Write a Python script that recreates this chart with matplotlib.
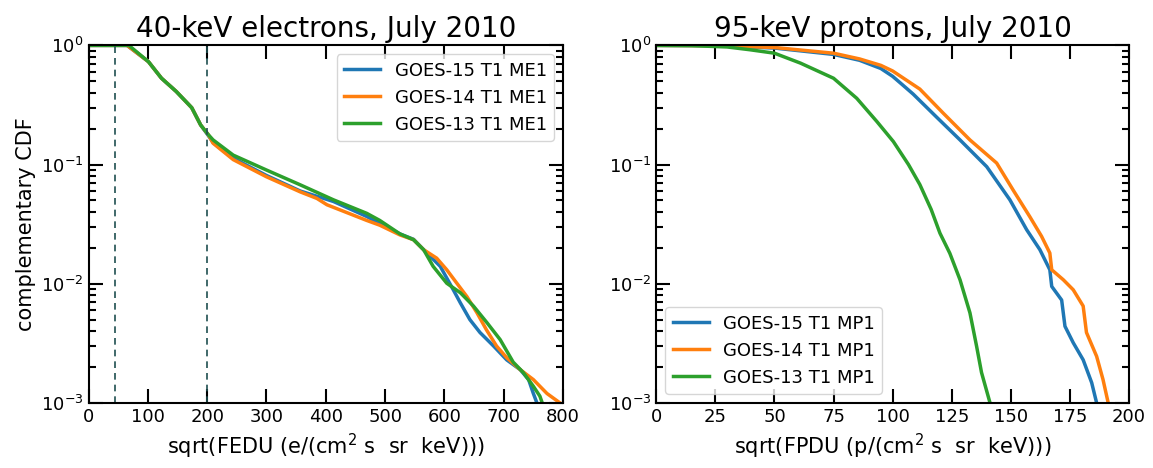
import numpy as np
import matplotlib.pyplot as plt

# 40-keV electrons: sqrt(FEDU) vs complementary CDF
e_labels = ['GOES-15 T1 ME1', 'GOES-14 T1 ME1', 'GOES-13 T1 ME1']
e15_x = [0, 65, 101, 123, 148, 174, 189, 202, 210, 244, 300, 357, 413, 469, 491, 525, 548,
         565, 593, 615, 627, 643, 660, 683, 705, 728, 742, 750, 756]
e15_y = [1.0, 1.0, 0.73, 0.53, 0.41, 0.30, 0.215, 0.175, 0.153, 0.113, 0.081, 0.060, 0.049,
         0.0367, 0.032, 0.0262, 0.0236, 0.0193, 0.014, 0.0089, 0.0069, 0.005, 0.0039,
         0.003, 0.0023, 0.0019, 0.00157, 0.0012, 0.001]
e14_x = [0, 65, 101, 123, 148, 174, 189, 202, 210, 244, 300, 357, 385, 402, 469, 491, 525,
         548, 565, 587, 604, 621, 638, 655, 671, 688, 705, 728, 750, 773, 795]
e14_y = [1.0, 1.0, 0.73, 0.53, 0.41, 0.30, 0.215, 0.178, 0.151, 0.11, 0.079, 0.059, 0.052,
         0.046, 0.034, 0.031, 0.0257, 0.0234, 0.0193, 0.0164, 0.0131, 0.0101, 0.0078,
         0.0057, 0.0041, 0.003, 0.0024, 0.0019, 0.00157, 0.0012, 0.001]
e13_x = [0, 68, 101, 123, 148, 174, 189, 202, 210, 244, 300, 357, 413, 469, 491, 525, 548,
         565, 581, 604, 627, 649, 672, 694, 716, 733, 750, 761, 765]
e13_y = [1.0, 1.0, 0.73, 0.53, 0.41, 0.30, 0.215, 0.178, 0.161, 0.12, 0.090, 0.0676, 0.0506,
         0.039, 0.034, 0.0262, 0.0234, 0.0193, 0.014, 0.0101, 0.0084, 0.0065, 0.0047,
         0.0034, 0.0022, 0.0018, 0.00138, 0.00114, 0.001]
e_cuts = [45, 200]

# 95-keV protons: sqrt(FPDU) vs complementary CDF
p_labels = ['GOES-15 T1 MP1', 'GOES-14 T1 MP1', 'GOES-13 T1 MP1']
p15_x = [0, 25, 50, 75, 86, 95, 100, 104, 108.7, 118.6, 128.5, 139.8, 149.6, 156.7, 162.3,
         166.5, 167.3, 171.5, 172.9, 176.4, 180.6, 184.2, 186.3]
p15_y = [1.0, 0.995, 0.95, 0.84, 0.75, 0.64, 0.55, 0.47, 0.39, 0.25, 0.161, 0.096, 0.0506,
         0.0284, 0.0193, 0.0131, 0.0095, 0.0073, 0.0044, 0.0032, 0.0023, 0.00148, 0.001]
p14_x = [0, 25, 50, 75, 86, 95, 100, 104, 111.5, 121.4, 132.7, 144, 151, 158, 163, 166.5,
         167.3, 172.2, 176.4, 180.6, 182, 186.3, 189, 191.2]
p14_y = [1.0, 0.995, 0.96, 0.86, 0.77, 0.68, 0.61, 0.54, 0.43, 0.27, 0.161, 0.103, 0.061,
         0.0366, 0.025, 0.0181, 0.0131, 0.0108, 0.0089, 0.0065, 0.0039, 0.00246, 0.00157,
         0.001]
p13_x = [0, 15, 30, 39.5, 50, 61, 75, 84.8, 93.3, 100.3, 106.7, 111.5, 116.3, 120, 124.2,
         128.5, 132.7, 135.5, 137.6, 141.2]
p13_y = [1.0, 0.995, 0.97, 0.92, 0.86, 0.71, 0.53, 0.36, 0.23, 0.156, 0.10, 0.068, 0.042,
         0.0266, 0.018, 0.0108, 0.0057, 0.003, 0.0018, 0.001]

colors = ['#1f77b4', '#ff7f0e', '#2ca02c']


def style_axes(ax):
    ax.set_yscale('log')
    ax.set_ylim(1e-3, 1)
    ax.tick_params(which='both', direction='in', top=True, right=True, labelsize=13)
    ax.tick_params(which='major', length=10, width=1.5)
    ax.tick_params(which='minor', length=5, width=1.5)
    for sp in ax.spines.values():
        sp.set_linewidth(1.5)


fig = plt.figure(figsize=(11.53, 4.68), dpi=100)
ax1 = fig.add_axes([0.0768, 0.139, 0.4115, 0.764])
ax2 = fig.add_axes([0.5692, 0.139, 0.410, 0.764])

for x, y, c, lab in zip([e15_x, e14_x, e13_x], [e15_y, e14_y, e13_y], colors, e_labels):
    ax1.plot(x, y, color=c, lw=2.5, label=lab)
for xc in e_cuts:
    ax1.axvline(xc, color='#1f4f50', ls=(0, (4, 3)), lw=1.2)
style_axes(ax1)
ax1.set_xlim(0, 800)
ax1.set_title('40-keV electrons, July 2010', fontsize=20)
ax1.set_xlabel('sqrt(FEDU (e/(cm$^2$ s  sr  keV)))', fontsize=15)
ax1.set_ylabel('complementary CDF', fontsize=15)
ax1.legend(loc='upper right', fontsize=13)

for x, y, c, lab in zip([p15_x, p14_x, p13_x], [p15_y, p14_y, p13_y], colors, p_labels):
    ax2.plot(x, y, color=c, lw=2.5, label=lab)
style_axes(ax2)
ax2.set_xlim(0, 200)
ax2.set_title('95-keV protons, July 2010', fontsize=20)
ax2.set_xlabel('sqrt(FPDU (p/(cm$^2$ s  sr  keV)))', fontsize=15)
ax2.legend(loc='lower left', fontsize=13)

fig.savefig('out.png', dpi=100)
